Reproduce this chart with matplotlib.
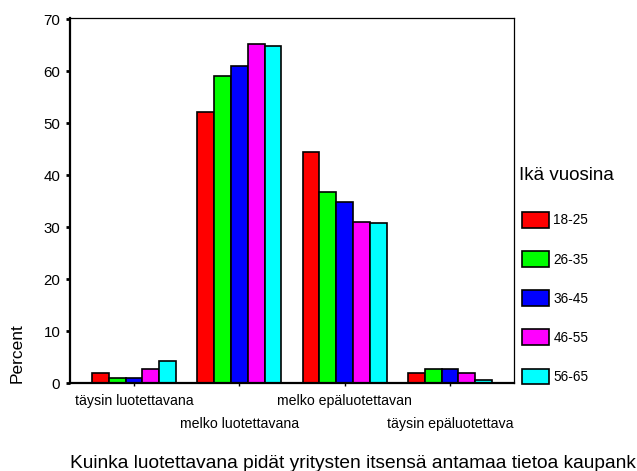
import numpy as np
import matplotlib
matplotlib.use("Agg")
import matplotlib.pyplot as plt
from matplotlib.transforms import ScaledTranslation

plt.rcParams['font.family'] = ['Liberation Sans', 'DejaVu Sans']

# --- data ---
categories = ['täysin luotettavana', 'melko luotettavana',
              'melko epäluotettavan', 'täysin epäluotettava']
age_groups = ['18-25', '26-35', '36-45', '46-55', '56-65']
pct_18_25 = [1.9, 52.2, 44.5, 1.9]
pct_26_35 = [1.0, 59.1, 36.8, 2.7]
pct_36_45 = [1.0, 61.0, 34.9, 2.7]
pct_46_55 = [2.7, 65.3, 31.1, 1.9]
pct_56_65 = [4.3, 64.9, 30.8, 0.7]
series = [pct_18_25, pct_26_35, pct_36_45, pct_46_55, pct_56_65]
colors = ['#ff0000', '#00ff00', '#0000ff', '#ff00ff', '#00ffff']

W, H = 637, 471
fig = plt.figure(figsize=(W / 100, H / 100), dpi=100)
ax = fig.add_axes([70 / W, (H - 383.3) / H, 444 / W, 365.8 / H])

x = np.arange(len(categories))
w = 0.16
for i, (vals, col) in enumerate(zip(series, colors)):
    ax.bar(x + (i - 2) * w, vals, w, color=col, edgecolor='black',
           linewidth=1.2, label=age_groups[i])

ax.set_xlim(-0.608, 3.608)
ax.set_ylim(0, 70.35)
ax.set_yticks(np.arange(0, 71, 10))
ax.tick_params(axis='y', length=3, width=2, pad=4, labelsize=10.8,
               direction='out')
ax.set_xticks(x)
ax.set_xticklabels(categories, fontsize=10.2)
ax.tick_params(axis='x', length=2, width=1, pad=6)
# stagger every second category label onto a lower row
for k, lab in enumerate(ax.get_xticklabels()):
    if k % 2 == 1:
        lab.set_transform(lab.get_transform() +
                          ScaledTranslation(0, -0.23, fig.dpi_scale_trans))

for side in ('left', 'bottom'):
    ax.spines[side].set_linewidth(1.6)
for side in ('top', 'right'):
    ax.spines[side].set_linewidth(0.9)

fig.text(17 / W, (H - 383) / H, 'Percent', rotation=90, ha='center',
         va='bottom', fontsize=12.5)

fig.text(519 / W, (H - 176) / H, 'Ikä vuosina', ha='left', va='center',
         fontsize=13.5)
ax.legend(loc='upper left', bbox_to_anchor=(522 / W, (H - 212) / H),
          bbox_transform=fig.transFigure, frameon=False, fontsize=9.8,
          handlelength=2.0, handleheight=1.4, labelspacing=1.72,
          handletextpad=0.3, borderpad=0, borderaxespad=0)

fig.text(70 / W, (H - 468) / H,
         'Kuinka luotettavana pidät yritysten itsensä antamaa tietoa kaupank',
         ha='left', va='baseline', fontsize=13.8)

fig.savefig('out.png', dpi=100)
